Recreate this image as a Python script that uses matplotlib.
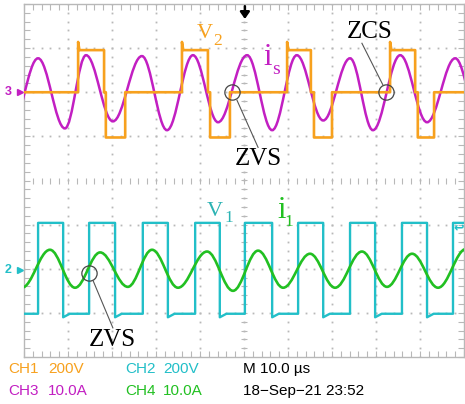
import numpy as np
import matplotlib
matplotlib.use("Agg")
import matplotlib.pyplot as plt
from matplotlib.path import Path
from matplotlib.patches import PathPatch
from matplotlib.ticker import MultipleLocator

# scope setup: 10 us/div, volts or amps per div, trace zero in divisions
CH1_SCALE, CH1_POS = 200.0, 2.0
CH2_SCALE, CH2_POS = 200.0, -2.02
CH3_SCALE, CH3_POS = 10.0, 2.0
CH4_SCALE, CH4_POS = 10.0, -2.02

# CH1 - v2, three-level voltage (edge times in us, levels in V)
v2_rise = [12.3, 35.9, 59.8, 83.2]
v2_high_end = [18.2, 41.8, 65.2, 88.9]
v2_low_start = [18.6, 42.3, 65.9, 89.5]
v2_low_end = [23.0, 46.8, 70.0, 93.2]
v2_high, v2_low, v2_spike = 191.0, -205.0, 228.0

# CH2 - v1, square wave
v1_rise = [3.2, 14.8, 27.0, 38.9, 50.2, 62.3, 74.1, 85.9, 97.5]
v1_fall = [8.9, 20.7, 32.7, 44.5, 56.4, 68.0, 79.8, 91.6]
v1_high, v1_low, v1_dip = 212.0, -200.0, -216.0

# CH3 - is, peaks and troughs (us, A)
is_t = [-3.0, 3.2, 9.3, 14.1, 20.2, 26.8, 32.5, 38.4, 44.1, 50.7, 56.4,
        62.0, 68.0, 74.1, 79.3, 85.5, 91.6, 98.0, 104.0]
is_a = [-8.2, 7.7, -8.2, 8.4, -6.6, 8.2, -8.6, 8.4, -6.8, 8.4, -8.6,
        8.4, -6.4, 7.7, -8.6, 8.4, -6.8, 7.7, -8.6]

# CH4 - i1, peaks and troughs (us, A)
i1_t = [-0.5, 5.9, 11.6, 17.3, 23.6, 29.1, 35.0, 41.6, 47.5, 53.2, 58.9,
        65.0, 70.7, 76.8, 82.5, 88.2, 94.1, 100.5]
i1_a = [-4.1, 4.5, -4.1, 3.9, -3.9, 4.5, -4.1, 4.1, -4.8, 4.3, -4.1,
        3.6, -4.1, 4.1, -3.9, 3.6, -4.1, 4.7]

ORANGE = "#f7a11e"
MAGENTA = "#c21fc2"
CYAN = "#22bfc8"
GREEN = "#22c022"
GRID = "#b8b8b8"

SERIF = "Liberation Serif"
SANS = ["Liberation Sans", "DejaVu Sans"]


def smooth_path(t, a, scale, pos):
    # half-cosine-like cubic segments between successive turning points
    v = [x / scale + pos for x in a]
    verts = [(t[0], v[0])]
    codes = [Path.MOVETO]
    for k in range(len(t) - 1):
        h = 0.3634 * (t[k + 1] - t[k])
        verts += [(t[k] + h, v[k]), (t[k + 1] - h, v[k + 1]), (t[k + 1], v[k + 1])]
        codes += [Path.CURVE4] * 3
    return Path(verts, codes)


def v2_trace():
    t, v = [0.0], [0.0]
    for r, he, ls, le in zip(v2_rise, v2_high_end, v2_low_start, v2_low_end):
        t += [r, r, r + 0.3, he, he, ls, ls, le, le]
        v += [0, v2_spike, v2_high, v2_high, 0, 0, v2_low, v2_low, 0]
    t.append(100.0)
    v.append(0.0)
    return np.array(t), np.array(v) / CH1_SCALE + CH1_POS


def v1_trace():
    t, v = [0.0], [v1_low]
    edges = sorted([(r, 1) for r in v1_rise] + [(f, 0) for f in v1_fall])
    for e, up in edges:
        if up:
            t += [e, e]
            v += [v1_low, v1_high]
        else:
            # small undershoot after each falling edge
            t += [e, e, e + 1.5]
            v += [v1_high, v1_dip, v1_low]
    t.append(100.0)
    v.append(v[-1])
    return np.array(t), np.array(v) / CH2_SCALE + CH2_POS


fig = plt.figure(figsize=(4.65, 4.04), dpi=100)
ax = fig.add_axes([24 / 465, 47 / 404, 440 / 465, 353 / 404])
ax.set_xlim(0, 100)
ax.set_ylim(-4, 4)

# graticule
ax.xaxis.set_major_locator(MultipleLocator(10))
ax.xaxis.set_minor_locator(MultipleLocator(2))
ax.yaxis.set_major_locator(MultipleLocator(1))
ax.yaxis.set_minor_locator(MultipleLocator(0.2))
ax.tick_params(which="both", direction="in", length=4, width=0.8, color=GRID,
               top=True, right=True, labelbottom=False, labelleft=False)
for s in ax.spines.values():
    s.set_color(GRID)
    s.set_linewidth(1.0)

dots_y = np.arange(-4, 4.01, 0.2)
for gx in range(10, 100, 10):
    ax.plot(np.full(dots_y.size, gx), dots_y, ls="none", marker="s", ms=1.3,
            mew=0, color=GRID, zorder=1)
dots_x = np.arange(0, 100.1, 2)
for gy in [-3, -2, -1, 1, 2, 3]:
    ax.plot(dots_x, np.full(dots_x.size, gy), ls="none", marker="s", ms=1.3,
            mew=0, color=GRID, zorder=1)
ax.plot(dots_x, np.zeros(dots_x.size), ls="none", marker="|", ms=5, mew=0.8,
        color=GRID, zorder=1)
ax.plot(np.full(dots_y.size, 50), dots_y, ls="none", marker="_", ms=5, mew=0.8,
        color=GRID, zorder=1)

# traces
t1, y1 = v1_trace()
ax.plot(t1, y1, color=CYAN, lw=1.7, zorder=3)
ax.add_patch(PathPatch(smooth_path(i1_t, i1_a, CH4_SCALE, CH4_POS), fill=False,
                       edgecolor=GREEN, lw=1.9, zorder=4))
ax.add_patch(PathPatch(smooth_path(is_t, is_a, CH3_SCALE, CH3_POS), fill=False,
                       edgecolor=MAGENTA, lw=1.8, zorder=5))
t2, y2 = v2_trace()
ax.plot(t2, y2, color=ORANGE, lw=1.9, zorder=6)

# trace labels
ax.text(39.3, 3.23, "V", color=ORANGE, fontsize=16, family=SERIF, zorder=7)
ax.text(43.0, 3.07, "2", color=ORANGE, fontsize=12.5, family=SERIF, zorder=7)
ax.text(54.3, 2.61, "i", color=MAGENTA, fontsize=22, family=SERIF, zorder=7)
ax.text(56.4, 2.41, "s", color=MAGENTA, fontsize=14, family=SERIF, zorder=7)
ax.text(41.6, -0.80, "V", color="#2bb3b3", fontsize=16, family=SERIF, zorder=7)
ax.text(45.5, -0.95, "1", color="#2bb3b3", fontsize=12.5, family=SERIF, zorder=7)
ax.text(57.5, -0.86, "i", color=GREEN, fontsize=22, family=SERIF, zorder=7)
ax.text(59.1, -1.02, "1", color=GREEN, fontsize=12.5, family=SERIF, zorder=7)

# soft-switching markers
ax.text(73.4, 3.23, "ZCS", color="black", fontsize=18, family=SERIF, zorder=7)
ax.text(47.95, 0.34, "ZVS", color="black", fontsize=18, family=SERIF, zorder=7)
ax.text(14.8, -3.75, "ZVS", color="black", fontsize=18, family=SERIF, zorder=7)
for cx, cy, lx, ly in [(82.3, 2.0, (76.8, 81.6), (3.11, 2.16)),
                       (47.3, 2.0, (48.4, 53.2), (1.82, 0.75)),
                       (14.8, -2.1, (15.7, 20.2), (-2.27, -3.34))]:
    ax.plot([cx], [cy], marker="o", ms=11, mfc="none", mec="#444444", mew=0.9,
            zorder=8)
    ax.plot(lx, ly, color="#555555", lw=0.8, zorder=8)

# channel ground markers and trigger marks
fig.text(5 / 465, 1 - 92 / 404, "3", color=MAGENTA, fontsize=9, va="center",
         family=SANS, weight="bold")
ax.plot([-0.9], [CH3_POS], marker=">", ms=5, color=MAGENTA, clip_on=False)
fig.text(5 / 465, 1 - 270 / 404, "2", color=CYAN, fontsize=9, va="center",
         family=SANS, weight="bold")
ax.plot([-0.9], [CH2_POS], marker=">", ms=5, color=CYAN, clip_on=False)
fig.text(464 / 465, 1 - 229 / 404, "\u21a9", color=CYAN, fontsize=9,
         ha="right", va="center", family="DejaVu Sans", weight="bold")
ax.annotate("", xy=(50.2, 3.66), xytext=(50.2, 3.95),
            arrowprops=dict(arrowstyle="-|>,head_width=0.28,head_length=0.4",
                            color="black", lw=1.8, shrinkA=0, shrinkB=0),
            annotation_clip=False)

# readout
row1, row2 = 1 - 373 / 404, 1 - 395 / 404
readout = [(8, row1, "CH1", ORANGE), (48, row1, "200V", ORANGE),
           (125, row1, "CH2", CYAN), (163, row1, "200V", CYAN),
           (243, row1, "M 10.0 \u00b5s", "black"),
           (8, row2, "CH3", MAGENTA), (48, row2, "10.0A", MAGENTA),
           (125, row2, "CH4", GREEN), (163, row2, "10.0A", GREEN),
           (243, row2, "18\u2212Sep\u221221 23:52", "black")]
for x, y, s, c in readout:
    fig.text(x / 465, y, s, color=c, fontsize=11, family=SANS, va="baseline")

fig.savefig("out.png", dpi=100, facecolor="white")
